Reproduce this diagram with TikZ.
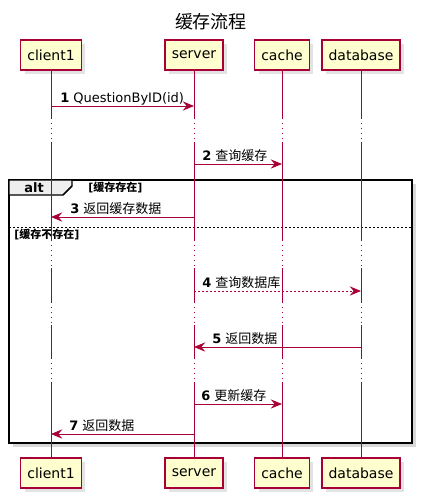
\documentclass[tikz,border=0pt]{standalone}
\usepackage{fontspec}
\setmainfont{DejaVu Sans}
\newfontfamily\cjk{Noto Sans CJK SC}
\usetikzlibrary{arrows.meta,shadows}
\definecolor{umlred}{HTML}{A80036}
\definecolor{umlfill}{HTML}{FEFECE}
\definecolor{tabgray}{HTML}{EEEEEE}
\tikzset{
  part/.style={draw=umlred, fill=umlfill, line width=1.1pt, minimum height=22.5pt,
    inner xsep=5pt, font=\fontsize{10.5}{12}\selectfont,
    drop shadow={shadow xshift=3pt, shadow yshift=-3pt, fill=black!22}},
  life/.style={umlred, line width=0.75pt},
  gap/.style={dash pattern=on 0.75pt off 3pt},
  msg/.style={umlred, line width=0.75pt, -{Stealth[length=8.5pt,width=7pt,inset=3pt]}},
  txt/.style={anchor=base west, inner sep=0pt, font=\fontsize{9.75}{11}\selectfont},
  guard/.style={anchor=base west, inner sep=0pt, font=\fontsize{8.25}{10}\selectfont\bfseries},
}
\begin{document}
\begin{tikzpicture}[x=0.75pt, y=-0.75pt]
	\useasboundingbox (0,0) rectangle (424,501);
	\node (title) at (211,22) {\cjk\fontsize{13.5}{16}\selectfont 缓存流程};
	
	% alt frame
	\draw[line width=1.1pt, fill=white, drop shadow={shadow xshift=3pt, shadow yshift=-3pt, fill=black!30}] (9,180) rectangle (412,443);
	\draw[line width=1.1pt, fill=tabgray] (9,180) -- (72,180) -- (72,186) -- (63,195) -- (9,195) -- cycle;
	\node[font=\fontsize{9.75}{11}\selectfont\bfseries] (alt) at (34,188) {alt};
	\node[guard] (g1) at (88,191) {[{\cjk 缓存存在}]};
	\draw[line width=0.75pt, dash pattern=on 1.5pt off 1.5pt] (9,227) -- (412,227);
	\node[guard] (g2) at (14,238) {[{\cjk 缓存不存在}]};
	
	\node[part] (cl) at (51,55) {client1};
	\node[part] (sv) at (194,55) {server};
	\node[part] (ca) at (282,55) {cache};
	\node[part] (db) at (361,55) {database};
	
	\foreach \p in {cl,sv,ca,db}{
		\foreach \a/\b/\s in {70/118/solid, 118/142/gap, 142/240/solid, 240/268/gap, 268/302/solid, 302/325/gap, 325/358/solid, 358/382/gap, 382/458/solid}
			\draw[life,\s] (\p.south |- 0,\a) -- (\p.south |- 0,\b);
	}
	
	\node[part] (clb) at (51,473) {client1};
	\node[part] (svb) at (194,473) {server};
	\node[part] (cab) at (282,473) {cache};
	\node[part] (dbb) at (361,473) {database};
	
	\draw[msg] (cl |- 0,106) -- (sv |- 0,106);
	\node[txt] (l1) at (60,102) {\textbf{1} QuestionByID(id)};
	\draw[msg] (sv |- 0,164) -- (ca |- 0,164);
	\node[txt] (l2) at (202,160) {\textbf{2} {\cjk 查询缓存}};
	\draw[msg] (sv |- 0,217) -- (cl |- 0,217);
	\node[txt] (l3) at (70,213) {\textbf{3} {\cjk 返回缓存数据}};
	\draw[msg, dash pattern=on 1.5pt off 1.5pt] (sv |- 0,291) -- (db |- 0,291);
	\node[txt] (l4) at (202,287) {\textbf{4} {\cjk 查询数据库}};
	\draw[msg] (db |- 0,347) -- (sv |- 0,347);
	\node[txt] (l5) at (212,343) {\textbf{5} {\cjk 返回数据}};
	\draw[msg] (sv |- 0,404) -- (ca |- 0,404);
	\node[txt] (l6) at (201,400) {\textbf{6} {\cjk 更新缓存}};
	\draw[msg] (sv |- 0,434) -- (cl |- 0,434);
	\node[txt] (l7) at (69,430) {\textbf{7} {\cjk 返回数据}};
\end{tikzpicture}
\end{document}
